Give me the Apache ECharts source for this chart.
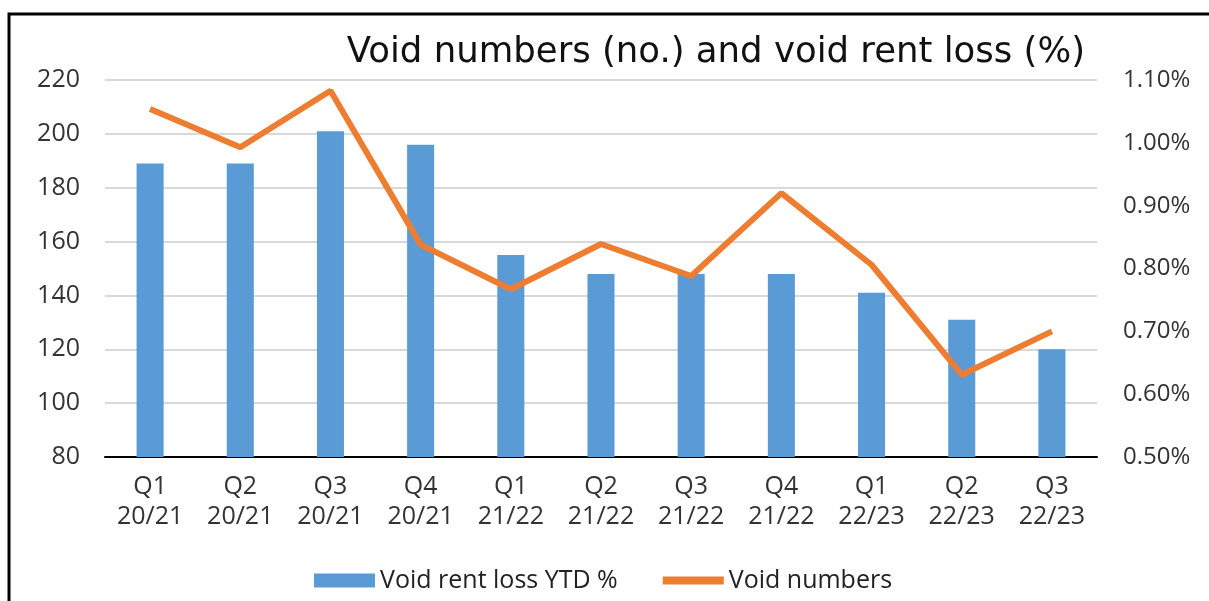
<!DOCTYPE html>
<html><head><meta charset="utf-8">
<script src="https://cdn.jsdelivr.net/npm/echarts@6/dist/echarts.min.js"></script>
<style>html,body{margin:0;padding:0;background:#fff}#c{width:1209px;height:601px}</style>
</head><body><div id="c"></div>
<script>
const categories = ['Q1\n20/21','Q2\n20/21','Q3\n20/21','Q4\n20/21','Q1\n21/22','Q2\n21/22','Q3\n21/22','Q4\n21/22','Q1\n22/23','Q2\n22/23','Q3\n22/23'];
const rentLoss = [189, 189, 201, 196, 155, 148, 148, 148, 141, 131, 120];
const voidNumbers = [1.054, 0.993, 1.083, 0.838, 0.767, 0.839, 0.788, 0.920, 0.806, 0.631, 0.700]; // percent
const voidNumbersScaled = voidNumbers.map(v => v * 100);
const FONT = '"Open Sans"';
const chart = echarts.init(document.getElementById('c'));
chart.setOption({
  animation: false,
  textStyle: { fontFamily: FONT },
  title: { text: 'Void numbers (no.) and void rent loss (%)', right: 119, top: 30,
    textStyle: { fontFamily: '"DejaVu Sans"', fontSize: 35.5, fontWeight: 'normal', color: '#111' } },
  graphic: [{ type: 'rect', shape: { x: 9, y: 14, width: 1400, height: 800 }, style: { fill: null, stroke: '#000', lineWidth: 3 }, silent: true }],
  grid: { left: 105, right: 112, top: 80, bottom: 144 },
  legend: { bottom: 3, left: 309, itemGap: 45, itemWidth: 61, itemHeight: 14,
    textStyle: { fontFamily: FONT, fontSize: 25, color: '#222', padding: [0, 0, 0, 0] },
    data: [{ name: 'Void rent loss YTD %', icon: 'rect' }, { name: 'Void numbers', icon: 'path://M0,0 L10,0 L10,1.3 L0,1.3 Z', itemStyle: { color: '#ED7D31' } }] },
  xAxis: { type: 'category', data: categories,
    axisLine: { lineStyle: { color: '#000', width: 2 } }, axisTick: { show: false },
    axisLabel: { fontSize: 25, color: '#333', lineHeight: 30, margin: 15 } },
  yAxis: [
    { type: 'value', min: 80, max: 220, interval: 20,
      axisLine: { show: false }, axisTick: { show: false },
      splitLine: { lineStyle: { color: '#d9d9d9', width: 2 } },
      axisLabel: { fontSize: 25, color: '#333', margin: 25 } },
    { type: 'value', min: 50, max: 110, interval: 10, position: 'right',
      axisLine: { show: false }, axisTick: { show: false }, splitLine: { show: false },
      axisLabel: { fontSize: 24, color: '#333', margin: 26, formatter: v => (v / 100).toFixed(2) + '%' } }
  ],
  series: [
    { name: 'Void rent loss YTD %', type: 'bar', data: rentLoss, barWidth: '30%', itemStyle: { color: '#5B9BD5' } },
    { name: 'Void numbers', type: 'line', yAxisIndex: 1, data: voidNumbersScaled, symbol: 'none',
      lineStyle: { color: '#ED7D31', width: 6 }, itemStyle: { color: '#ED7D31' } }
  ]
});
</script></body></html>
